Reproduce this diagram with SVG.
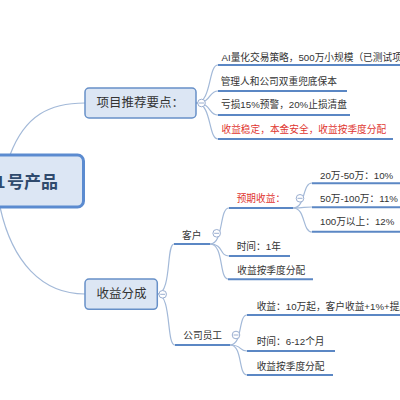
<svg xmlns="http://www.w3.org/2000/svg" width="400" height="400" viewBox="0 0 400 400">
<style>
text{font-family:"Liberation Sans","Noto Sans CJK SC",sans-serif;fill:#333;dominant-baseline:central}
.t{font-size:9.7px}
.red{fill:#e0352f}
.m{font-size:12.5px}
.c{font-size:17px;font-weight:bold;fill:#2f4a6d}
.ul{stroke:#5b87c4;stroke-width:2;fill:none}
.cn{stroke:#a3b9d8;stroke-width:1.2;fill:none}
.box{fill:#dce6f4;stroke:#6790c8;stroke-width:1.5}
.btn{fill:#fff;stroke:#9aaed0;stroke-width:1}
.btnm{stroke:#9aaed0;stroke-width:1}
</style>
<rect width="400" height="400" fill="#fff"/>
<g id="connectors">
<path class="cn" d="M10 155 C25 115 50 103 85 103"/>
<path class="cn" d="M0 207 C12 262 42 294 85 294"/>
<path class="cn" d="M196 103 C212 103 208 65 218 65"/>
<path class="cn" d="M196 103 C212 103 208 91 218 91"/>
<path class="cn" d="M196 103 C212 103 208 115 218 115"/>
<path class="cn" d="M196 103 C212 103 208 139 218 139"/>
<path class="cn" d="M157 294 C172 294 166 244 174 244"/>
<path class="cn" d="M157 294 C172 294 166 345 175 345"/>
<path class="cn" d="M210 244 C224 244 219 208 229 208"/>
<path class="cn" d="M210 244 C224 244 219 256 229 256"/>
<path class="cn" d="M210 244 C224 244 219 279 228 279"/>
<path class="cn" d="M293 208 C306 208 302 183 312 183"/>
<path class="cn" d="M293 208 C306 208 302 207 312 207"/>
<path class="cn" d="M293 208 C306 208 302 232 312 232"/>
<path class="cn" d="M230 345 C243 345 238 315 247 315"/>
<path class="cn" d="M230 345 C243 345 238 351 247 351"/>
<path class="cn" d="M230 345 C243 345 238 375 247 375"/>
</g>
<g id="central">
<rect x="-10" y="155" width="93.5" height="52" rx="6" fill="#dce6f4" stroke="#5b8bd0" stroke-width="3"/>
<text class="c" y="182"><tspan x="-4.5">1</tspan><tspan x="7">号产品</tspan></text>
</g>
<g id="n-xmtj">
<rect class="box" x="85" y="88" width="111" height="30" rx="4"/>
<text class="m" x="96.5" y="103">项目推荐要点：</text>
<circle class="btn" cx="201.5" cy="103" r="3.8"/><path class="btnm" d="M199 103h5"/>
</g>
<g id="n-p1"><text class="t" x="221.5" y="57.5">AI量化交易策略，500万小规模（已测试项目</text><path class="ul" d="M218 65H400"/></g>
<g id="n-p2"><text class="t" x="220.7" y="81.7">管理人和公司双重兜底保本</text><path class="ul" d="M218 91H347"/></g>
<g id="n-p3"><text class="t" x="221" y="104">亏损15%预警，20%止损清盘</text><path class="ul" d="M218 115H350"/></g>
<g id="n-p4"><text class="t red" x="221.5" y="129">收益稳定，本金安全，收益按季度分配</text><path class="ul" d="M218 139H393"/></g>
<g id="n-syfc">
<rect class="box" x="85" y="279" width="72.3" height="30.3" rx="4"/>
<text class="m" x="96.5" y="294.3">收益分成</text>
<circle class="btn" cx="162.7" cy="294.3" r="3.8"/><path class="btnm" d="M160.2 294.3h5"/>
</g>
<g id="n-kh">
<text class="t" x="182" y="235">客户</text><path class="ul" d="M174 244H210"/>
<circle class="btn" cx="216.7" cy="233.3" r="3.8"/><path class="btnm" d="M214.2 233.3h5"/>
</g>
<g id="n-yqsy">
<text class="t red" x="236.7" y="198.3">预期收益：</text><path class="ul" d="M229 208H293"/>
<circle class="btn" cx="300" cy="198.3" r="3.8"/><path class="btnm" d="M297.5 198.3h5"/>
</g>
<g id="n-r1"><text class="t" x="320" y="175">20万-50万：10%</text><path class="ul" d="M312 183.3H400"/></g>
<g id="n-r2"><text class="t" x="320" y="198.3">50万-100万：11%</text><path class="ul" d="M312 207.3H400"/></g>
<g id="n-r3"><text class="t" x="320" y="221.7">100万以上：12%</text><path class="ul" d="M312 231.7H400"/></g>
<g id="n-sj1"><text class="t" x="236.7" y="246.7">时间：1年</text><path class="ul" d="M229 256H290"/></g>
<g id="n-fp1"><text class="t" x="237.3" y="270">收益按季度分配</text><path class="ul" d="M228 279.3H313"/></g>
<g id="n-gsyg">
<text class="t" x="183.3" y="335">公司员工</text><path class="ul" d="M175 345H230"/>
<circle class="btn" cx="236" cy="335" r="3.8"/><path class="btnm" d="M233.5 335h5"/>
</g>
<g id="n-sy2"><text class="t" x="256.7" y="306.7">收益：10万起，客户收益+1%+提成</text><path class="ul" d="M247 315H400"/></g>
<g id="n-sj2"><text class="t" x="256.7" y="341.7">时间：6-12个月</text><path class="ul" d="M247 351H335"/></g>
<g id="n-fp2"><text class="t" x="256.7" y="366">收益按季度分配</text><path class="ul" d="M247 375H333"/></g>
</svg>
